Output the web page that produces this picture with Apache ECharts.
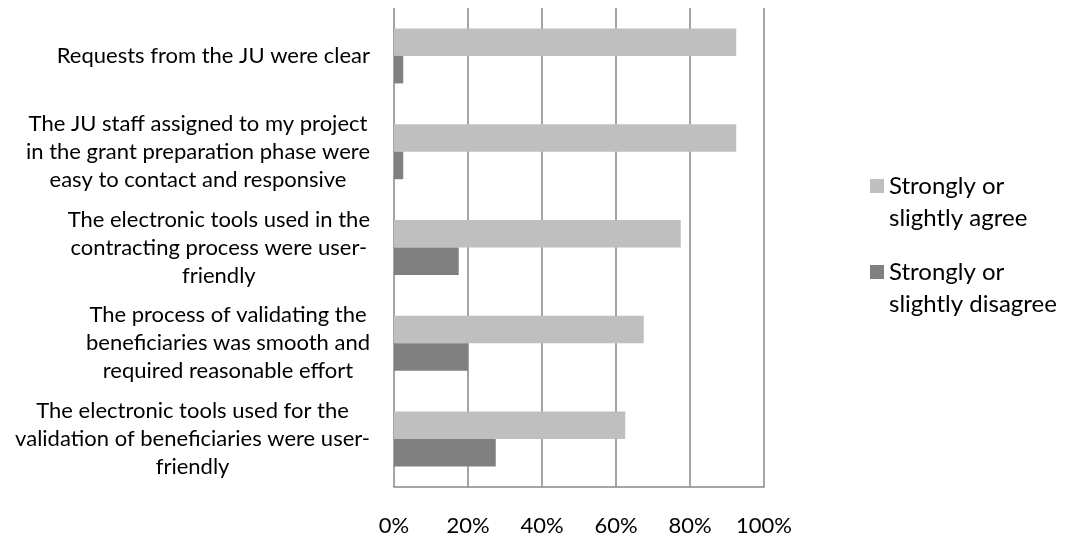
<!DOCTYPE html>
<html>
<head>
<meta charset="utf-8">
<script src="https://cdn.jsdelivr.net/npm/echarts@6/dist/echarts.min.js"></script>
<style>
    html, body { margin: 0; padding: 0; background: #fff; }
    #chart { width: 1068px; height: 537px; }
</style>
</head>
<body>
<div id="chart"></div>
<script>
    const categories = [
        'Requests from the JU were clear',
        'The JU staff assigned to my project\nin the grant preparation phase were\neasy to contact and responsive',
        'The electronic tools used in the\ncontracting process were user-\nfriendly',
        'The process of validating the\nbeneficiaries was smooth and\nrequired reasonable effort',
        'The electronic tools used for the\nvalidation of beneficiaries were user-\nfriendly'
    ];
    const seriesNames = ['Strongly or\nslightly agree', 'Strongly or\nslightly disagree'];
    const agree = [92.5, 92.5, 77.5, 67.5, 62.5];
    const disagree = [2.5, 2.5, 17.5, 20, 27.5];

    const font = 'Lato';
    const myChart = echarts.init(document.getElementById('chart'));

    const option = {
        animation: false,
        color: ['#bfbfbf', '#808080'],
        grid: {
            left: 394,
            right: 304,
            top: 8,
            bottom: 45
        },
        legend: {
            orient: 'vertical',
            left: 870,
            top: 138,
            padding: 0,
            itemWidth: 14,
            itemHeight: 14,
            itemGap: -10,
            icon: 'rect',
            data: seriesNames,
            // blank first line so the marker sits beside the first text line
            formatter: function (name) {
                return '\n' + name;
            },
            textStyle: {
                fontFamily: font,
                fontSize: 24,
                lineHeight: 32,
                color: '#000'
            }
        },
        xAxis: {
            type: 'value',
            min: 0,
            max: 100,
            interval: 20,
            axisLine: { show: true, lineStyle: { color: '#868686', width: 1.5 } },
            axisTick: { show: false },
            splitLine: { show: true, lineStyle: { color: '#868686', width: 1.5 } },
            axisLabel: {
                formatter: '{value}%',
                margin: 28,
                fontFamily: font,
                fontSize: 22,
                color: '#000'
            }
        },
        yAxis: {
            type: 'category',
            inverse: true,
            data: categories,
            axisLine: { show: false },
            axisTick: { show: false },
            splitLine: { show: false },
            axisLabel: {
                align: 'right',
                margin: 24,
                formatter: function (value) {
                    return value.split('\n').map(function (l) { return '{c|' + l + '}'; }).join('\n');
                },
                rich: {
                    c: {
                        align: 'center',
                        fontFamily: font,
                        fontSize: 22,
                        lineHeight: 28,
                        color: '#000'
                    }
                }
            }
        },
        series: [
            {
                name: seriesNames[0],
                type: 'bar',
                data: agree,
                barWidth: 27.5,
                barGap: '0%'
            },
            {
                name: seriesNames[1],
                type: 'bar',
                data: disagree,
                barWidth: 27.5,
                barGap: '0%'
            }
        ]
    };
    myChart.setOption(option);
</script>
</body>
</html>
